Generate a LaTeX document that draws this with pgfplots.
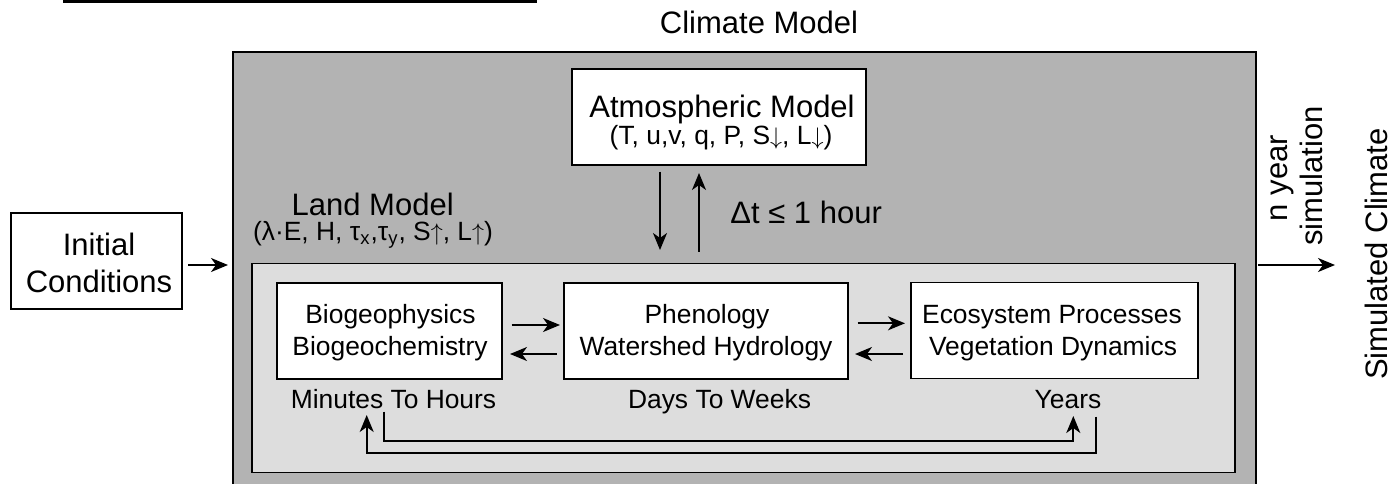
\documentclass[border=0pt]{standalone}
\usepackage{fontspec}
\setmainfont{Liberation Sans}
\usepackage{pgfplots}
\pgfplotsset{compat=1.18}
\usetikzlibrary{arrows.meta}

\definecolor{outergray}{RGB}{179,179,179}
\definecolor{innergray}{RGB}{221,221,221}

\tikzset{
  big/.style={inner sep=0pt, anchor=base, font=\fontsize{15.5pt}{18pt}\selectfont},
  sm/.style={inner sep=0pt, anchor=base, font=\fontsize{13.2pt}{15pt}\selectfont},
  arr/.style={-{Stealth[length=8.5pt, width=7pt, inset=2.5pt]}},
}
\newcommand{\up}{\smash{$\uparrow$}}
\newcommand{\dn}{\smash{$\downarrow$}}

\begin{document}
\begin{tikzpicture}
\begin{axis}[
  name=main,
  width=698.5pt, height=241.5pt, scale only axis,
  xmin=0, xmax=1397, ymin=0, ymax=483,
  y dir=reverse,
  hide axis, clip=false,
  every axis plot/.append style={line width=0.9pt, draw=black, mark=none},
]
% boxes (pixel coordinates, y measured from the top)
\addplot[fill=black, draw=none] coordinates {(63,0)(537,0)(537,3.3)(63,3.3)} -- cycle;
\addplot[fill=outergray] coordinates {(233,52)(1256,52)(1256,495)(233,495)} -- cycle;
\addplot[fill=innergray] coordinates {(252,263.5)(1235,263.5)(1235,472.5)(252,472.5)} -- cycle;
\addplot[fill=white] coordinates {(571.7,69.3)(866,69.3)(866,165)(571.7,165)} -- cycle;
\addplot[fill=white] coordinates {(10.7,213.3)(181.7,213.3)(181.7,309.3)(10.7,309.3)} -- cycle;
\addplot[fill=white] coordinates {(276.7,282.7)(501.7,282.7)(501.7,379)(276.7,379)} -- cycle;
\addplot[fill=white] coordinates {(564,282.7)(847.7,282.7)(847.7,379)(564,379)} -- cycle;
\addplot[fill=white] coordinates {(910.7,282.5)(1198.3,282.5)(1198.3,378.5)(910.7,378.5)} -- cycle;

% arrows
\addplot[arr] coordinates {(188,265)(228,265)};
\addplot[arr] coordinates {(1258,265)(1335,265)};
\addplot[arr] coordinates {(660,171.7)(660,250)};
\addplot[arr] coordinates {(699,251.7)(699,173)};
\addplot[arr] coordinates {(511.7,325)(560,325)};
\addplot[arr] coordinates {(556.7,354)(510,354)};
\addplot[arr] coordinates {(857.7,323.3)(905,323.3)};
\addplot[arr] coordinates {(903,354)(855,354)};
\addplot[arr] coordinates {(384.3,411.7)(384.3,440.7)(1073.3,440.7)(1073.3,416)};
\addplot[arr] coordinates {(1096,416.7)(1096,452.7)(366.7,452.7)(366.7,415)};

% labels
\node[big] at (axis cs:759,33.3) {Climate Model};
\node[big] at (axis cs:722,117) {Atmospheric Model};
\node[sm] at (axis cs:721,144.5) {(T, u,v, q, P, S\dn, L\dn)};
\node[big, anchor=base west] at (axis cs:730,223.3) {Δt ≤ 1 hour};
\node[big] at (axis cs:372.7,215) {Land Model};
\node[sm] at (axis cs:373,240.5) {(λ·E, H, τ\textsubscript{x},τ\textsubscript{y}, S\up, L\up)};
\node[big] at (axis cs:99,255) {Initial};
\node[big] at (axis cs:99,292.5) {Conditions};
\node[sm] at (axis cs:390.5,323) {Biogeophysics};
\node[sm] at (axis cs:390,355.5) {Biogeochemistry};
\node[sm] at (axis cs:707,323) {Phenology};
\node[sm] at (axis cs:706,355.5) {Watershed Hydrology};
\node[sm] at (axis cs:1052,323) {Ecosystem Processes};
\node[sm] at (axis cs:1053,355.5) {Vegetation Dynamics};
\node[sm] at (axis cs:393.5,408) {Minutes To Hours};
\node[sm] at (axis cs:719.5,408) {Days To Weeks};
\node[sm] at (axis cs:1068,408) {Years};
\node[big, rotate=90] at (axis cs:1287,178) {n year};
\node[big, rotate=90] at (axis cs:1322,176) {simulation};
\node[big, rotate=90] at (axis cs:1387,254) {Simulated Climate};
\end{axis}
\pgfresetboundingbox
\useasboundingbox (main.south west) rectangle (main.north east);
\end{tikzpicture}
\end{document}
